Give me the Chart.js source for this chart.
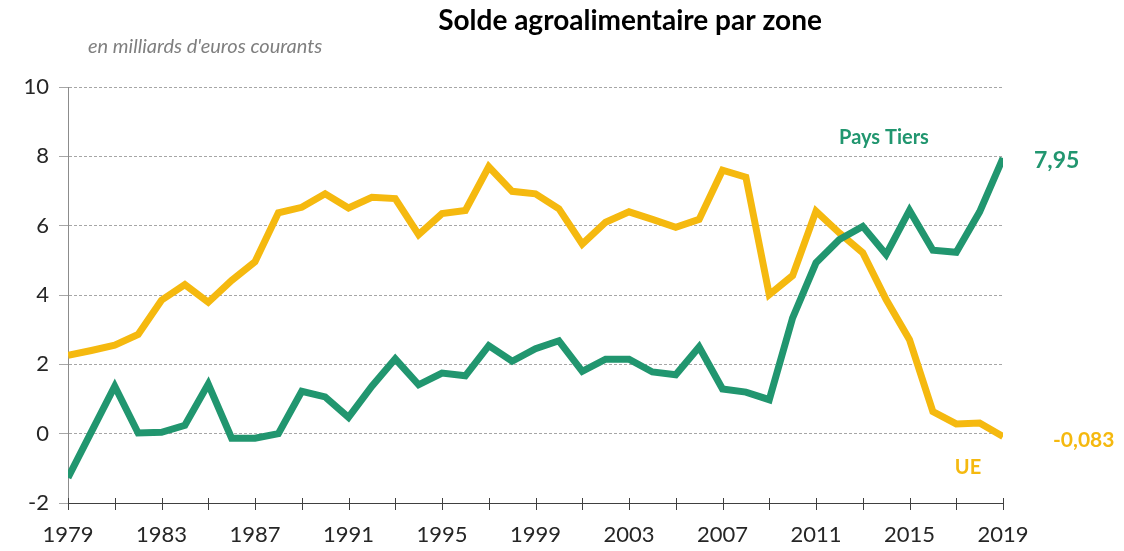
<!DOCTYPE html>
<html>
<head>
<meta charset="utf-8">
<script src="https://cdn.jsdelivr.net/npm/chart.js@4.4.1/dist/chart.umd.min.js"></script>
<style>
body{margin:0;background:#fff;}
</style>
</head>
<body>
<canvas id="chart-area-1" width="1124" height="551"></canvas>
<script>
var annees = [1979,1980,1981,1982,1983,1984,1985,1986,1987,1988,1989,1990,1991,1992,1993,
	1994,1995,1996,1997,1998,1999,2000,2001,2002,2003,2004,2005,2006,
	2007,2008,2009,2010,2011,2012,2013,2014,2015,2016,2017,2018,2019];

var soldeUE = [2.26,2.40,2.55,2.86,3.85,4.30,3.79,4.42,4.96,6.37,6.53,6.92,6.51,6.82,6.78,
	5.74,6.35,6.44,7.70,6.99,6.92,6.49,5.47,6.10,6.40,6.18,5.95,6.18,
	7.60,7.40,4.01,4.56,6.42,5.79,5.22,3.87,2.71,0.64,0.28,0.31,-0.083];

var soldePaysTiers = [-1.27,0.05,1.37,0.02,0.04,0.24,1.43,-0.13,-0.13,0.0,1.22,1.06,0.47,1.37,2.16,
	1.41,1.75,1.67,2.54,2.09,2.45,2.68,1.80,2.15,2.15,1.78,1.70,2.50,
	1.29,1.20,0.98,3.34,4.93,5.60,5.98,5.17,6.44,5.29,5.23,6.40,7.95];

var yTicks = [-2,0,2,4,6,8,10];
var xLabels = [1979,1983,1987,1991,1995,1999,2003,2007,2011,2015,2019];

var VERT = '#21966f';
var JAUNE = '#f5b90f';
var POLICE = 'Lato, "Open Sans", sans-serif';

function toPoints(values){
	var pts = [];
	for (var i = 0; i < annees.length; i++) {
		pts.push({x: annees[i], y: values[i]});
	}
	return pts;
}

// tirets de graduation qui traversent l'axe horizontal + textes
var decor = {
	id: 'decor',
	afterDraw: function(chart){
		var ctx = chart.ctx;
		var xs = chart.scales.x;
		var ys = chart.scales.y;
		var base = chart.chartArea.bottom;
		ctx.save();
		ctx.strokeStyle = '#404040';
		ctx.lineWidth = 1;
		for (var a = 1979; a <= 2019; a += 2) {
			var px = Math.round(xs.getPixelForValue(a)) + 0.5;
			ctx.beginPath();
			ctx.moveTo(px, base - 5);
			ctx.lineTo(px, base + 7);
			ctx.stroke();
		}

		ctx.textBaseline = 'middle';
		ctx.fillStyle = '#000';
		ctx.textAlign = 'center';
		ctx.font = 'bold 28px ' + POLICE;
		ctx.fillText('Solde agroalimentaire par zone', 630, 21);

		ctx.fillStyle = '#7f7f7f';
		ctx.textAlign = 'left';
		ctx.font = 'italic 20px ' + POLICE;
		ctx.fillText("en milliards d'euros courants", 88, 47);

		var last = annees.length - 1;
		var xEnd = xs.getPixelForValue(annees[last]);
		ctx.font = 'bold 20px ' + POLICE;
		ctx.fillStyle = VERT;
		ctx.textAlign = 'center';
		ctx.fillText('Pays Tiers', 884, 138);
		ctx.textAlign = 'left';
		ctx.font = 'bold 23px ' + POLICE;
		ctx.fillText('7,95', xEnd + 31, ys.getPixelForValue(soldePaysTiers[last]) + 3);

		ctx.fillStyle = JAUNE;
		ctx.font = 'bold 21px ' + POLICE;
		ctx.fillText('-0,083', xEnd + 50, ys.getPixelForValue(soldeUE[last]) + 4);
		ctx.font = 'bold 20px ' + POLICE;
		ctx.textAlign = 'center';
		ctx.fillText('UE', 968, 468);
		ctx.restore();
	}
};

var ctx = document.getElementById('chart-area-1').getContext('2d');
window.myLine = new Chart(ctx, {
	type: 'line',
	data: {
		datasets: [{
			label: 'Pays Tiers',
			data: toPoints(soldePaysTiers),
			borderColor: VERT,
			borderWidth: 7,
			pointRadius: 0,
			tension: 0,
			order: 0
		}, {
			label: 'UE',
			data: toPoints(soldeUE),
			borderColor: JAUNE,
			borderWidth: 7,
			pointRadius: 0,
			tension: 0,
			order: 1
		}]
	},
	options: {
		responsive: false,
		animation: false,
		layout: {
			padding: {left: 0, right: 121, top: 87, bottom: 0}
		},
		plugins: {
			legend: {display: false},
			title: {display: false},
			tooltip: {enabled: false}
		},
		scales: {
			x: {
				type: 'linear',
				min: 1979,
				max: 2019,
				afterFit: function(scale){ scale.height = 48; },
				afterBuildTicks: function(scale){
					scale.ticks = xLabels.map(function(v){ return {value: v}; });
				},
				ticks: {
					autoSkip: false,
					maxRotation: 0,
					padding: 19,
					color: '#262626',
					font: {family: POLICE, size: 22},
					callback: function(v){ return String(v); }
				},
				grid: {
					drawOnChartArea: false,
					drawTicks: false
				},
				border: {color: '#404040', width: 1}
			},
			y: {
				min: -2,
				max: 10,
				afterFit: function(scale){ scale.width = 68; },
				afterBuildTicks: function(scale){
					scale.ticks = yTicks.map(function(v){ return {value: v}; });
				},
				ticks: {
					padding: 10,
					color: '#262626',
					font: {family: POLICE, size: 22}
				},
				grid: {
					color: '#a6a6a6',
					lineWidth: 1,
					tickLength: 9,
					tickColor: '#a6a6a6'
				},
				border: {color: '#8c8c8c', width: 1, dash: [3, 2]}
			}
		}
	},
	plugins: [decor]
});
</script>
</body>
</html>
